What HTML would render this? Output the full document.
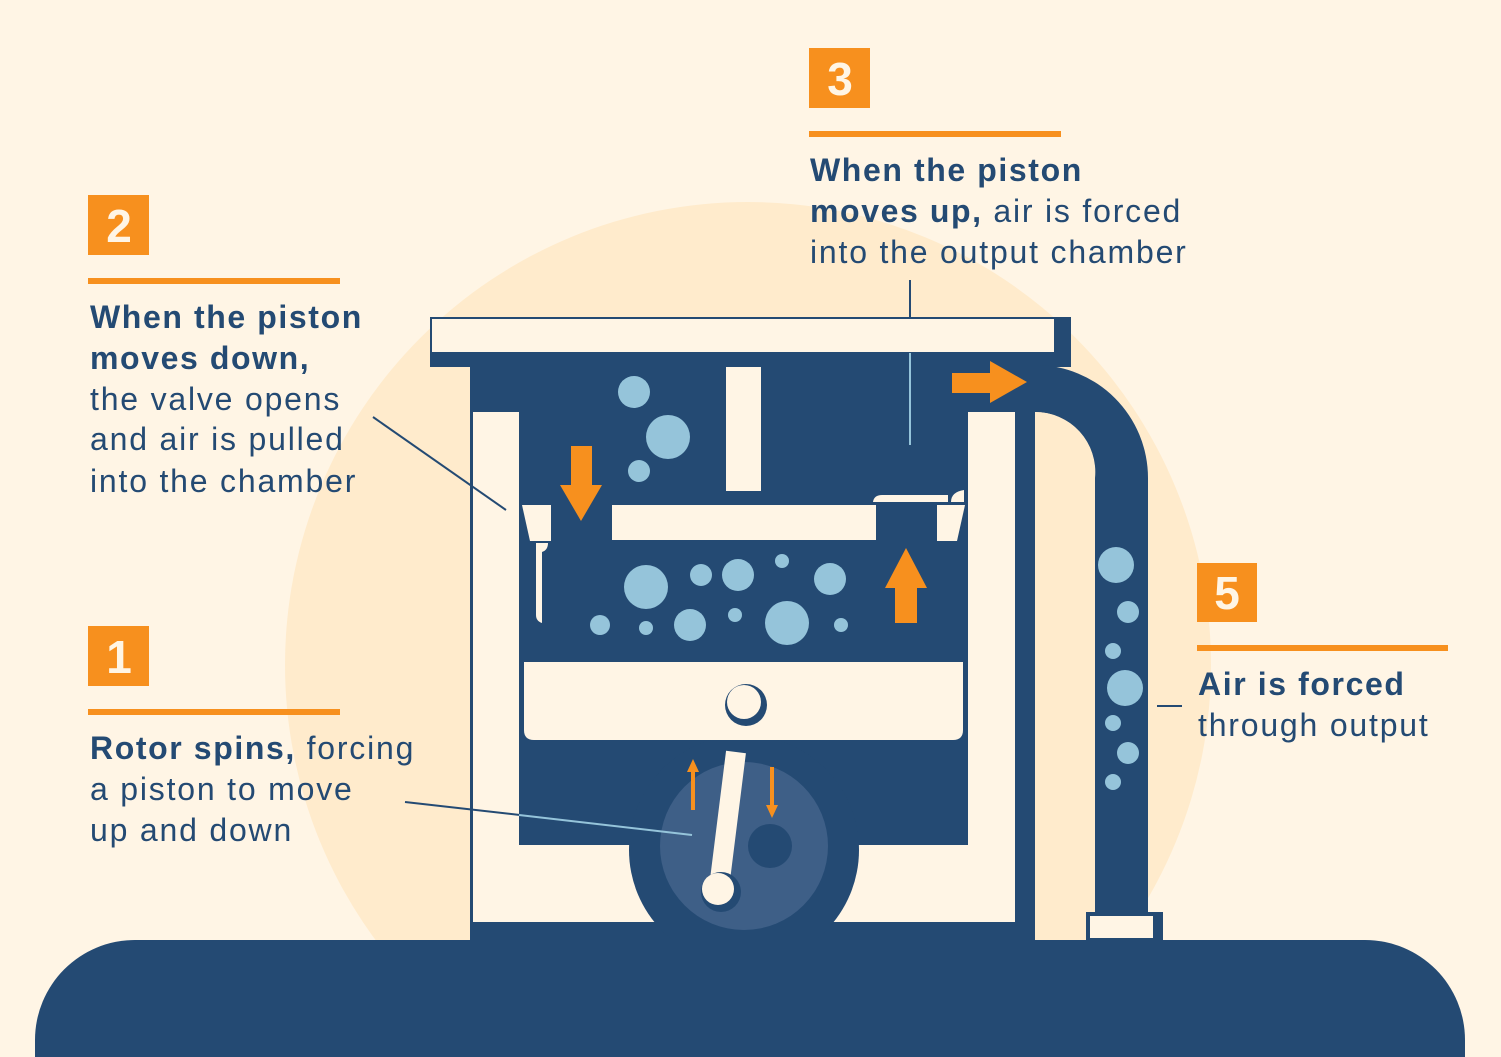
<!DOCTYPE html>
<html><head><meta charset="utf-8"><style>
html,body{margin:0;padding:0;background:#FFF5E5;overflow:hidden;width:1501px;height:1057px;}
svg{display:block;}
text{font-family:"Liberation Sans",sans-serif;fill:#244A73;font-size:32px;letter-spacing:1.8px;}
.b{font-weight:bold;letter-spacing:1.6px;}
.n{fill:#FFF5E5;font-weight:bold;font-size:46px;text-anchor:middle;letter-spacing:0;}
</style></head><body>
<svg width="1501" height="1057" viewBox="0 0 1501 1057" xmlns="http://www.w3.org/2000/svg">
<rect width="1501" height="1057" fill="#FFF5E5"/>
<circle cx="748" cy="665" r="463" fill="#FFEBCC"/>

<rect x="430" y="317" width="641" height="50" fill="#244A73"/>
<rect x="470" y="353" width="565" height="590" fill="#244A73"/>
<path d="M1035 365 A113 113 0 0 1 1148 478 L1148 920 L1095 920 L1095 478 A60 60 0 0 0 1035 412 Z" fill="#244A73"/>
<path d="M1035 412 A60 60 0 0 1 1095 472 L1095 942 L1035 942 Z" fill="#FFEBCC"/>
<rect x="1086" y="912" width="77" height="30" fill="#244A73"/>
<rect x="1090" y="916" width="63" height="22" fill="#FFF5E5"/>
<rect x="432" y="319" width="622" height="33" fill="#FFF5E5"/>
<rect x="473" y="412" width="46" height="510" fill="#FFF5E5"/>
<rect x="968" y="412" width="47" height="510" fill="#FFF5E5"/>
<rect x="519" y="845" width="449" height="77" fill="#FFF5E5"/>
<circle cx="744" cy="850" r="115" fill="#244A73"/>
<circle cx="744" cy="846" r="84" fill="#3E5F87"/>
<circle cx="770" cy="846" r="22" fill="#244A73"/>
<path d="M35 1057 L35 1040 A100 100 0 0 1 135 940 L1365 940 A100 100 0 0 1 1465 1040 L1465 1057 Z" fill="#244A73"/>

<path d="M524 662 L963 662 L963 730 Q963 740 953 740 L534 740 Q524 740 524 730 Z" fill="#FFF5E5"/>
<circle cx="746" cy="705" r="21" fill="#244A73"/>
<circle cx="744" cy="702" r="17" fill="#FFF5E5"/>
<line x1="736" y1="752" x2="719" y2="888" stroke="#FFF5E5" stroke-width="20"/>
<circle cx="721" cy="892" r="20" fill="#244A73"/>
<circle cx="718" cy="889" r="16" fill="#FFF5E5"/>

<rect x="612" y="505" width="264" height="35" fill="#FFF5E5"/>
<rect x="726" y="367" width="35" height="124" fill="#FFF5E5"/>
<polygon points="522,505 551,505 551,541 530,541" fill="#FFF5E5"/>
<path d="M536 543 L548 543 Q548 550 542 552 L542 623 Q536 621 536 615 Z" fill="#FFF5E5"/>
<polygon points="937,505 965,505 957,541 937,541" fill="#FFF5E5"/>
<path d="M873 502 Q874 495 882 495 L948 495 L948 502 Z" fill="#FFF5E5"/>
<path d="M951 502 Q951 492 964 490 L964 502 Z" fill="#FFF5E5"/>

<g fill="#95C4DA">
<circle cx="634" cy="392" r="16"/><circle cx="668" cy="437" r="22"/><circle cx="639" cy="471" r="11"/>
<circle cx="646" cy="587" r="22"/><circle cx="701" cy="575" r="11"/><circle cx="738" cy="575" r="16"/>
<circle cx="782" cy="561" r="7"/><circle cx="830" cy="579" r="16"/><circle cx="600" cy="625" r="10"/>
<circle cx="646" cy="628" r="7"/><circle cx="690" cy="625" r="16"/><circle cx="735" cy="615" r="7"/>
<circle cx="787" cy="623" r="22"/><circle cx="841" cy="625" r="7"/>
<circle cx="1116" cy="565" r="18"/><circle cx="1128" cy="612" r="11"/><circle cx="1113" cy="651" r="8"/>
<circle cx="1125" cy="688" r="18"/><circle cx="1113" cy="723" r="8"/><circle cx="1128" cy="753" r="11"/>
<circle cx="1113" cy="782" r="8"/>
</g>

<g fill="#F7901E">
<polygon points="571,446 592,446 592,485 602,485 581,521 560,485 571,485"/>
<polygon points="895,623 917,623 917,588 927,588 906,548 885,588 895,588"/>
<polygon points="952,373 990,373 990,361 1027,382 990,403 990,393 952,393"/>
<rect x="691" y="770" width="4" height="40"/><polygon points="687,772 699,772 693,759"/>
<rect x="770" y="767" width="4" height="40"/><polygon points="766,805 778,805 772,818"/>
</g>

<g stroke="#244A73" stroke-width="2">
<line x1="373" y1="417" x2="506" y2="510"/>
<line x1="405" y1="802" x2="520" y2="815"/>
<line x1="1157" y1="706" x2="1182" y2="706"/>
<line x1="910" y1="280" x2="910" y2="317"/>
</g>
<line x1="519" y1="815" x2="692" y2="835" stroke="#95C4DA" stroke-width="2"/>
<line x1="910" y1="353" x2="910" y2="445" stroke="#95C4DA" stroke-width="2"/>

<rect x="809" y="48" width="61" height="60" fill="#F7901E"/><text class="n" x="840" y="95">3</text>
<rect x="809" y="131" width="252" height="6" fill="#F7901E"/>
<text x="810" y="181" class="b">When the piston</text>
<text x="810" y="222"><tspan class="b">moves up,</tspan> air is forced</text>
<text x="810" y="263">into the output chamber</text>

<rect x="88" y="195" width="61" height="60" fill="#F7901E"/><text class="n" x="119" y="242">2</text>
<rect x="88" y="278" width="252" height="6" fill="#F7901E"/>
<text x="90" y="328" class="b">When the piston</text>
<text x="90" y="369" class="b">moves down,</text>
<text x="90" y="410">the valve opens</text>
<text x="90" y="450">and air is pulled</text>
<text x="90" y="492">into the chamber</text>

<rect x="88" y="626" width="61" height="60" fill="#F7901E"/><text class="n" x="119" y="673">1</text>
<rect x="88" y="709" width="252" height="6" fill="#F7901E"/>
<text x="90" y="759"><tspan class="b">Rotor spins,</tspan> forcing</text>
<text x="90" y="800">a piston to move</text>
<text x="90" y="841">up and down</text>

<rect x="1197" y="563" width="60" height="59" fill="#F7901E"/><text class="n" x="1227" y="609">5</text>
<rect x="1197" y="645" width="251" height="6" fill="#F7901E"/>
<text x="1198" y="695" class="b">Air is forced</text>
<text x="1198" y="736">through output</text>
</svg>
</body></html>
